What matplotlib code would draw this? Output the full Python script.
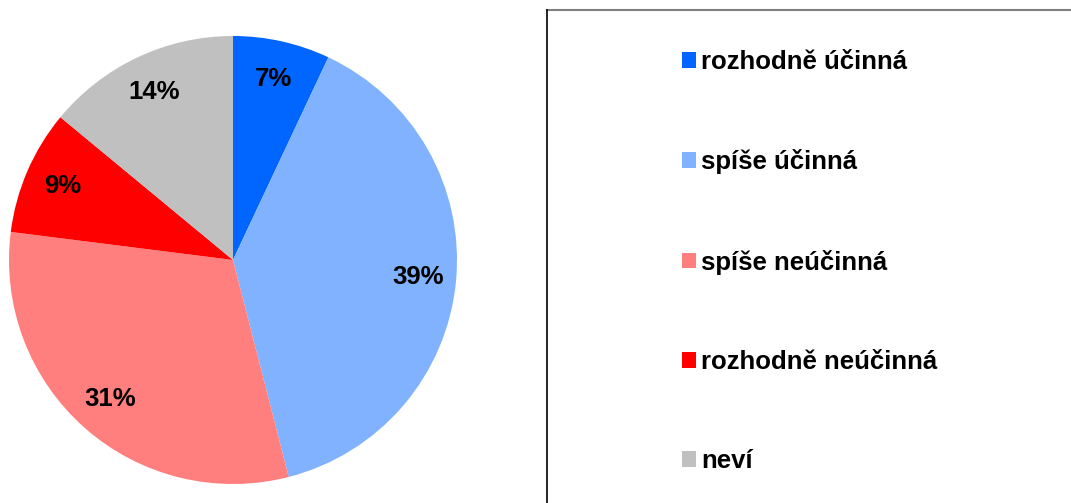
import matplotlib
matplotlib.use("Agg")
import matplotlib.pyplot as plt
from matplotlib.lines import Line2D
from matplotlib.patches import Patch

labels = ["rozhodně účinná", "spíše účinná", "spíše neúčinná", "rozhodně neúčinná", "neví"]
values = [7, 39, 31, 9, 14]
colors = ["#0066FF", "#80B2FF", "#FF7F7F", "#FF0000", "#C0C0C0"]

plt.rcParams["font.family"] = ["Liberation Sans", "DejaVu Sans"]
plt.rcParams["font.weight"] = "bold"

W, H = 1071, 503
fig = plt.figure(figsize=(W / 100, H / 100), dpi=100)

# pie: centre (233, 260) px, radius 224 px
cx, cy, r = 233, 260, 224
ax = fig.add_axes([(cx - r) / W, (H - cy - r) / H, 2 * r / W, 2 * r / H])
ax.pie(values, colors=colors, startangle=90, counterclock=False,
       autopct="%d%%", pctdistance=0.83, radius=1,
       textprops={"fontsize": 18.5, "fontweight": "bold", "color": "black"},
       wedgeprops={"linewidth": 0})
ax.set_xlim(-1, 1)
ax.set_ylim(-1, 1)
ax.set_aspect("equal")
ax.axis("off")

# legend box (runs off the right and bottom edges)
x0, y0 = 546.5 / W, 1 - 9.5 / H
fig.add_artist(Line2D([x0, 1.0], [y0, y0], color="#808080", lw=1.5, transform=fig.transFigure))
fig.add_artist(Line2D([x0, x0], [y0, 0.0], color="black", lw=1.2, transform=fig.transFigure))

handles = [Patch(facecolor=c, edgecolor="none") for c in colors]
fig.legend(handles, labels, loc="upper left", bbox_to_anchor=(682 / W, 1 - 50 / H),
           frameon=False, fontsize=18.5, handlelength=0.55, handleheight=0.55,
           handletextpad=0.2, labelspacing=2.93, borderpad=0, borderaxespad=0)

plt.savefig("out.png", dpi=100)
plt.close()
